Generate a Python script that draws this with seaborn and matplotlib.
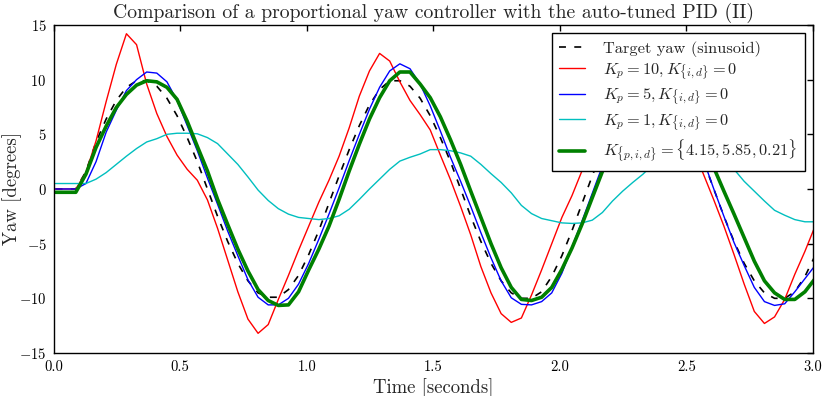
import numpy as np
import pandas as pd
import matplotlib
matplotlib.use("Agg")
import matplotlib.pyplot as plt
import seaborn as sns

# ---- data ----
time = [0.008, 0.048, 0.088, 0.128, 0.168, 0.208, 0.248, 0.288, 0.328, 0.368,
        0.408, 0.448, 0.488, 0.528, 0.568, 0.608, 0.648, 0.688, 0.728, 0.768,
        0.808, 0.848, 0.888, 0.928, 0.968, 1.008, 1.048, 1.088, 1.128, 1.168,
        1.208, 1.248, 1.288, 1.328, 1.368, 1.408, 1.448, 1.488, 1.528, 1.568,
        1.608, 1.648, 1.688, 1.728, 1.768, 1.808, 1.848, 1.888, 1.928, 1.968,
        2.008, 2.048, 2.088, 2.128, 2.168, 2.208, 2.248, 2.288, 2.328, 2.368,
        2.408, 2.448, 2.488, 2.528, 2.568, 2.608, 2.648, 2.688, 2.728, 2.768,
        2.808, 2.848, 2.888, 2.928, 2.968, 3.008]

target = [0.0, 0.0, 0.0, 1.6, 4.3, 6.4, 8.1, 9.3, 9.9, 9.9,
          9.4, 8.3, 6.7, 4.7, 2.5, 0.0, -2.5, -4.8, -6.8, -8.4,
          -9.5, -9.9, -9.9, -9.2, -7.9, -6.0, -3.8, -1.3, 1.2, 3.6,
          5.8, 7.7, 9.1, 9.9, 9.9, 9.4, 8.3, 6.7, 4.7, 2.5,
          0.0, -2.5, -4.8, -6.8, -8.4, -9.5, -10.0, -10.0, -9.4, -8.0,
          -6.1, -3.8, -1.3, 1.2, 3.6, 5.8, 7.7, 9.1, 9.9, 9.9,
          9.4, 8.3, 6.7, 4.7, 2.5, 0.0, -2.5, -4.8, -6.8, -8.4,
          -9.5, -10.0, -10.0, -9.4, -8.0, -6.1]

kp10 = [0.0, 0.0, 0.0, 1.5, 4.4, 8.0, 11.4, 14.2, 13.2, 9.6,
        6.9, 4.8, 3.1, 1.8, 0.8, -1.0, -3.6, -6.5, -9.4, -11.9,
        -13.2, -12.4, -10.1, -7.9, -5.6, -3.4, -1.2, 0.8, 3.0, 5.6,
        8.5, 10.8, 12.4, 11.7, 9.8, 8.1, 6.8, 5.4, 3.1, 0.85,
        -1.6, -4.2, -7.1, -9.5, -11.4, -12.2, -11.8, -9.7, -7.4, -5.0,
        -2.6, -0.6, 1.7, 3.8, 6.0, 8.5, 10.8, 12.3, 11.8, 10.0,
        8.3, 7.0, 5.6, 3.6, 1.3, -1.0, -3.4, -6.0, -8.7, -11.2,
        -12.3, -11.7, -10.1, -7.8, -5.7, -3.4]

kp5 = [0.0, 0.0, 0.0, 0.5, 2.5, 5.2, 7.2, 9.0, 10.0, 10.7,
       10.6, 9.8, 8.1, 5.8, 3.5, 1.0, -1.4, -3.85, -6.1, -8.3,
       -9.9, -10.6, -10.6, -10.0, -8.7, -6.8, -4.6, -2.3, 0.1, 2.6,
       5.0, 7.3, 9.3, 10.8, 11.45, 11.0, 9.6, 7.6, 5.3, 2.9,
       0.7, -1.6, -4.0, -6.3, -8.4, -9.95, -10.55, -10.6, -10.3, -9.5,
       -7.7, -5.3, -2.9, -0.4, 2.1, 4.6, 6.9, 9.1, 10.7, 11.4,
       11.0, 9.6, 7.6, 5.1, 2.6, 0.0, -2.5, -4.9, -7.0, -9.0,
       -10.3, -10.65, -10.5, -9.4, -8.2, -7.0]

kp1 = [0.5, 0.5, 0.5, 0.5, 0.9, 1.5, 2.25, 3.0, 3.7, 4.3,
       4.6, 5.0, 5.1, 5.1, 5.05, 4.7, 4.15, 3.2, 2.25, 1.1,
       -0.1, -1.05, -1.8, -2.3, -2.6, -2.7, -2.8, -2.7, -2.45, -1.85,
       -0.95, 0.0, 0.9, 1.8, 2.55, 2.9, 3.2, 3.6, 3.6, 3.5,
       3.3, 3.0, 2.25, 1.4, 0.6, -0.35, -1.5, -2.25, -2.7, -2.9,
       -3.1, -3.15, -3.1, -2.85, -2.15, -1.1, -0.2, 0.6, 1.35, 2.25,
       2.9, 3.35, 3.6, 3.7, 3.6, 3.3, 2.7, 1.8, 0.7, -0.2,
       -1.1, -1.95, -2.4, -2.8, -3.0, -3.0]

pid = [-0.3, -0.3, -0.3, 1.35, 3.8, 5.75, 7.45, 8.65, 9.5, 9.9,
       9.8, 9.3, 8.2, 6.2, 3.9, 1.65, -0.95, -3.25, -5.5, -7.5,
       -9.2, -10.2, -10.65, -10.6, -9.4, -7.4, -5.5, -3.4, -0.95, 1.65,
       4.1, 6.4, 8.35, 9.9, 10.7, 10.7, 9.6, 8.35, 6.6, 4.5,
       2.25, -0.2, -2.6, -5.0, -7.2, -9.0, -10.1, -10.2, -9.9, -9.0,
       -7.35, -5.4, -3.2, -0.8, 1.6, 4.1, 6.4, 8.35, 9.9, 10.7,
       10.7, 9.6, 8.35, 6.5, 4.2, 1.95, -0.2, -2.3, -4.45, -6.6,
       -8.4, -9.5, -10.1, -10.1, -9.4, -8.2]

labels = [r"Target yaw (sinusoid)",
          r"$K_p = 10, K_{\{i,d\}} = 0$",
          r"$K_p = 5, K_{\{i,d\}} = 0$",
          r"$K_p = 1, K_{\{i,d\}} = 0$",
          r"$K_{\{p,i,d\}} = \{4.15, 5.85, 0.21\}$"]
colors = ["black", "#ff0000", "#0000ff", "#00bfbf", "#008000"]
widths = [1.2, 1.0, 1.0, 1.0, 2.6]
styles = [(0, (5, 6)), "-", "-", "-", "-"]
series = [target, kp10, kp5, kp1, pid]

x_ticks = [0.0, 0.5, 1.0, 1.5, 2.0, 2.5, 3.0]
y_ticks = [-15, -10, -5, 0, 5, 10, 15]

# ---- style ----
sns.set_style("white")
plt.rcParams.update({
    "font.family": ["cmr10", "DejaVu Serif"],
    "mathtext.fontset": "cm",
    "axes.formatter.use_mathtext": True,
    "axes.unicode_minus": True,
    "axes.edgecolor": "black",
    "axes.linewidth": 1.0,
    "lines.scale_dashes": False,
    "xtick.direction": "in",
    "ytick.direction": "in",
    "xtick.top": True,
    "ytick.right": True,
    "xtick.major.size": 4,
    "ytick.major.size": 4,
    "xtick.color": "black",
    "ytick.color": "black",
})

fig = plt.figure(figsize=(8.22, 3.96), dpi=100)
ax = fig.add_axes([0.0651, 0.1086, 0.9891 - 0.0651, 0.9369 - 0.1086])

for vals, lab, col, lw, ls in zip(series, labels, colors, widths, styles):
    df = pd.DataFrame({"time": time, "yaw": vals})
    sns.lineplot(data=df, x="time", y="yaw", ax=ax, color=col, lw=lw,
                 linestyle=ls, label=lab, legend=False)

ax.set_xlim(0, 3.0)
ax.set_ylim(-15, 15)
ax.set_xticks(x_ticks)
ax.set_xticklabels([f"{v:.1f}" for v in x_ticks])
ax.set_yticks(y_ticks)
ax.tick_params(labelsize=10.5, pad=5, width=1.0)
ax.set_xlabel("Time [seconds]", fontsize=13.5, labelpad=3)
ax.set_ylabel("Yaw [degrees]", fontsize=13.5, labelpad=-2)
ax.set_title("Comparison of a proportional yaw controller with the auto-tuned PID (II)",
             fontsize=14.2, pad=5)
for sp in ax.spines.values():
    sp.set_visible(True)
    sp.set_color("black")

leg = ax.legend(loc="upper right", fontsize=11.8, frameon=True, fancybox=False,
                framealpha=1.0, edgecolor="black", borderaxespad=0.5,
                handlelength=1.6, handletextpad=1.1, labelspacing=0.28,
                borderpad=0.45)
leg.get_frame().set_linewidth(1.0)

fig.savefig("out.png", dpi=100)
